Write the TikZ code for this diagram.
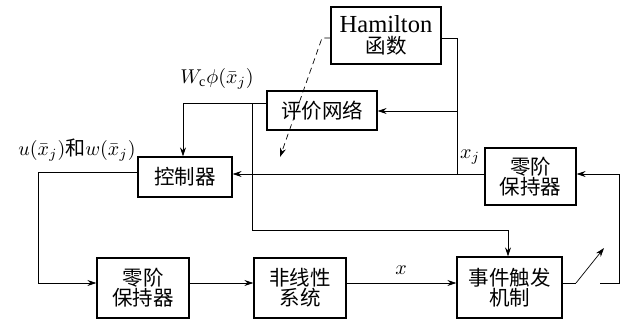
\documentclass[tikz,border=0pt]{standalone}
\usepackage{fontspec}
\setmainfont{Liberation Serif}
\newfontfamily\cjk{Noto Sans CJK SC}
\usetikzlibrary{arrows.meta}
\begin{document}
\begin{tikzpicture}[x=1pt,y=-1pt,
  box/.style={draw,line width=1.3pt,inner sep=0pt,align=center,font=\cjk\fontsize{20.5}{23}\selectfont},
  conn/.style={line width=0.7pt},
  arr/.style={conn,-{Stealth[length=9pt,width=6pt]}},
  lbl/.style={inner sep=0pt,scale=2}]
\useasboundingbox (0,0) rectangle (628,322);
\fill[white] (0,0) rectangle (628,322);
% boxes
\node[box,minimum width=110pt,minimum height=57pt] (ham) at (386,35.5) {{\rmfamily\fontsize{24.5}{25}\selectfont Hamilton}\\[-2pt]函数};
\node[box,minimum width=110pt,minimum height=39pt] (crit) at (322,110.5) {评价网络};
\node[box,minimum width=94pt,minimum height=40pt] (ctrl) at (185,177) {控制器};
\node[box,minimum width=91pt,minimum height=57pt] (zohr) at (530.5,176.5) {零阶\\[-3pt]保持器};
\node[box,minimum width=92pt,minimum height=60pt] (zohl) at (143,288) {零阶\\[-3pt]保持器};
\node[box,minimum width=92pt,minimum height=60pt] (sys) at (300,288) {非线性\\[-3pt]系统};
\node[box,minimum width=105pt,minimum height=61pt] (evt) at (509.5,287.5) {事件触发\\[-3pt]机制};
% coordinates
\coordinate (hj) at (457,111);
\coordinate (wj) at (252,103);
\coordinate (sw1) at (576,283);
\coordinate (sw2) at (604,248);
\coordinate (sw3) at (600,283);
\coordinate (dsh) at (322,38);
\coordinate (dtip) at (280,157);
% connectors
\draw[conn] (ham.east |- 0,38) -| (hj);
\draw[arr] (hj) -- (crit.east |- hj);
\draw[conn] (hj) -- (457,174);
\draw[arr] (zohr.west |- 0,174) -- (ctrl.east |- 0,174);
\draw[arr] (crit.west |- wj) -| (ctrl.north -| 183,0);
\draw[arr] (wj) -- (252,230) -| (evt.north -| 508,0);
\draw[arr] (ctrl.west |- 0,172) -| (38,283) -- (zohl.west |- 0,283);
\draw[arr] (zohl.east |- 0,283) -- (sys.west |- 0,283);
\draw[arr] (sys.east |- 0,283) -- (evt.west |- 0,283);
\draw[conn] (evt.east |- 0,283) -- (sw1);
\draw[arr] (sw1) -- (sw2);
\draw[arr] (sw3) -- (619,283) |- (zohr.east |- 0,174);
\draw[conn,dashed,dash pattern=on 6pt off 4pt,-{Stealth[length=9pt,width=6pt]}] (ham.west |- dsh) -- (dsh) -- (dtip);
% labels
\node[lbl] (lw) at (217,79) {$W_{\mathrm{c}}\phi(\bar{x}_j)$};
\node[lbl,anchor=east] (lu) at (136,150) {$u(\bar{x}_j)${\cjk 和}$w(\bar{x}_j)$};
\node[lbl] (lx) at (470,157) {$x_j$};
\node[lbl] (lxx) at (401,270) {$x$};
\end{tikzpicture}
\end{document}
